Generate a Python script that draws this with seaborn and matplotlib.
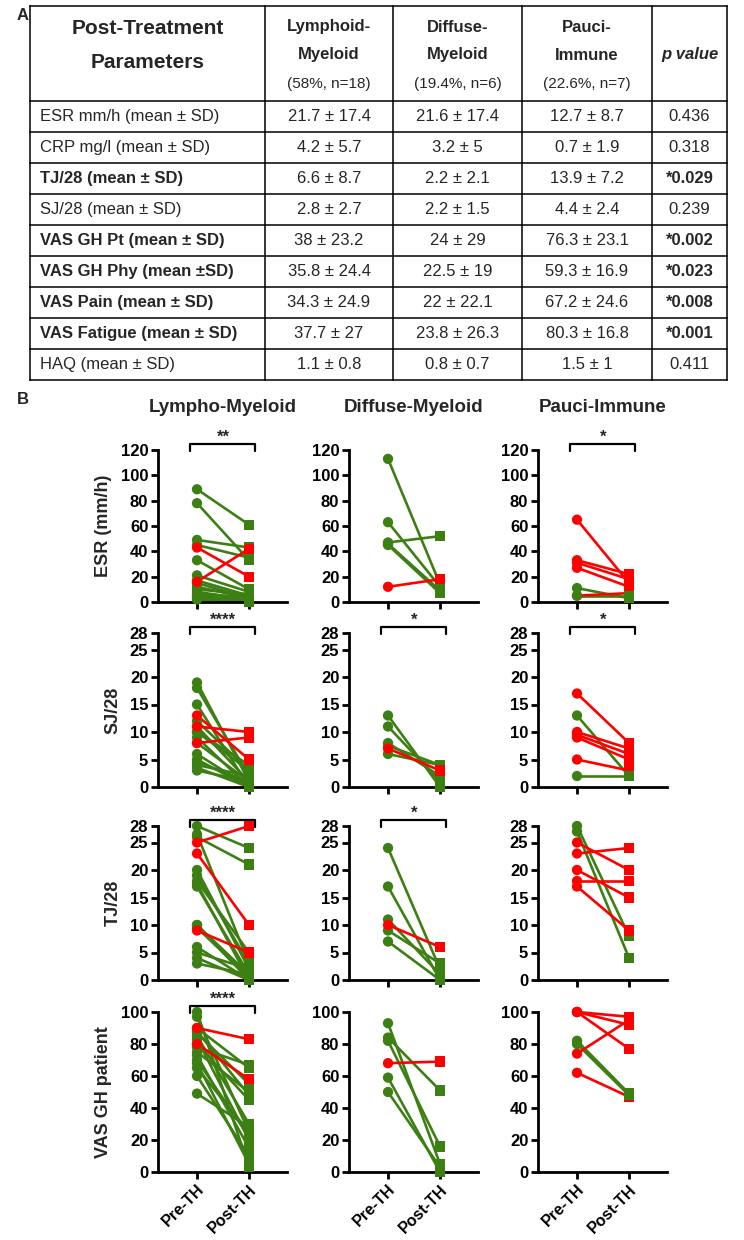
import numpy as np
import pandas as pd
import matplotlib
matplotlib.use("Agg")
import matplotlib.pyplot as plt
import matplotlib.transforms as mtransforms
import seaborn as sns

sns.set_theme(style="ticks")
plt.rcParams['font.family'] = ['Liberation Sans', 'DejaVu Sans']

GREEN = "#3c8014"
RED = "#ff0000"

# ---------------- Panel A : table data ----------------
group_names = ["Lymphoid-\nMyeloid", "Diffuse-\nMyeloid", "Pauci-\nImmune"]
group_sizes = ["(58%, n=18)", "(19.4%, n=6)", "(22.6%, n=7)"]
param_labels = ["ESR mm/h (mean ± SD)", "CRP mg/l (mean ± SD)", "TJ/28 (mean ± SD)",
                "SJ/28 (mean ± SD)", "VAS GH Pt (mean ± SD)", "VAS GH Phy (mean ±SD)",
                "VAS Pain (mean ± SD)", "VAS Fatigue (mean ± SD)", "HAQ (mean ± SD)"]
param_bold = [False, False, True, False, True, True, True, True, False]
lm_vals = ["21.7 ± 17.4", "4.2 ± 5.7", "6.6 ± 8.7", "2.8 ± 2.7", "38 ± 23.2",
           "35.8 ± 24.4", "34.3 ± 24.9", "37.7 ± 27", "1.1 ± 0.8"]
dm_vals = ["21.6 ± 17.4", "3.2 ± 5", "2.2 ± 2.1", "2.2 ± 1.5", "24 ± 29",
           "22.5 ± 19", "22 ± 22.1", "23.8 ± 26.3", "0.8 ± 0.7"]
pi_vals = ["12.7 ± 8.7", "0.7 ± 1.9", "13.9 ± 7.2", "4.4 ± 2.4", "76.3 ± 23.1",
           "59.3 ± 16.9", "67.2 ± 24.6", "80.3 ± 16.8", "1.5 ± 1"]
p_vals = ["0.436", "0.318", "*0.029", "0.239", "*0.002", "*0.023", "*0.008", "*0.001", "0.411"]

# ---------------- Panel B : paired data ----------------
groups = ["Lympho-Myeloid", "Diffuse-Myeloid", "Pauci-Immune"]
measures = ["ESR (mm/h)", "SJ/28", "TJ/28", "VAS GH patient"]
time_labels = ["Pre-TH", "Post-TH"]

# ESR
esr_lm_pre = [89, 78, 49, 45, 33, 21, 17, 15, 10, 8, 6, 5, 4, 3, 2, 12, 43, 16]
esr_lm_post = [61, 33, 43, 35, 10, 8, 5, 3, 6, 2, 4, 1, 2, 1, 0, 3, 20, 42]
esr_lm_col = ["G"] * 16 + ["R", "R"]
esr_dm_pre = [113, 63, 47, 46, 45, 12]
esr_dm_post = [14, 12, 52, 9, 7, 18]
esr_dm_col = ["G", "G", "G", "G", "G", "R"]
esr_pi_pre = [65, 33, 31, 27, 5, 11, 5]
esr_pi_post = [15, 22, 18, 12, 7, 3, 5]
esr_pi_col = ["R", "R", "R", "R", "R", "G", "G"]
# SJ/28
sj_lm_pre = [19, 18, 15, 12, 11, 10, 9, 8, 5, 4, 3, 3.5, 4.5, 10, 6, 13, 11, 8]
sj_lm_post = [1, 2, 0, 3, 1, 4, 0, 1, 0, 2, 1, 0, 1, 3, 0, 5, 10, 9]
sj_lm_col = ["G"] * 15 + ["R", "R", "R"]
sj_dm_pre = [13, 11, 8, 7.5, 6, 7]
sj_dm_post = [0, 1, 2, 4, 4, 3]
sj_dm_col = ["G", "G", "G", "G", "G", "R"]
sj_pi_pre = [17, 13, 10, 9.5, 9, 5, 2]
sj_pi_post = [8, 2, 7, 6, 5, 3, 2]
sj_pi_col = ["R", "G", "R", "R", "R", "R", "G"]
# TJ/28
tj_lm_pre = [28, 26, 26.5, 20, 18, 17, 17.5, 10, 10, 6, 4, 3, 5, 9.5, 19, 25, 23, 9]
tj_lm_post = [24, 21, 3, 2, 5, 1, 0, 0, 1, 0, 0, 1, 2, 0.5, 3, 28, 10, 5]
tj_lm_col = ["G"] * 15 + ["R", "R", "R"]
tj_dm_pre = [24, 17, 11, 9, 7, 10]
tj_dm_post = [2, 0, 1, 3, 0, 6]
tj_dm_col = ["G", "G", "G", "G", "G", "R"]
tj_pi_pre = [28, 27, 25, 23, 20, 18, 17]
tj_pi_post = [8, 4, 20, 24, 15, 18, 9]
tj_pi_col = ["G", "G", "R", "R", "R", "R", "R"]
# VAS GH patient
vas_lm_pre = [100, 97, 90, 88, 87, 85, 83, 80, 78, 75, 73, 70, 68, 65, 60, 49, 90, 80]
vas_lm_post = [3, 25, 65, 48, 55, 30, 20, 45, 67, 50, 15, 22, 5, 25, 10, 28, 83, 58]
vas_lm_col = ["G"] * 16 + ["R", "R"]
vas_dm_pre = [93, 84, 82, 59, 50, 68]
vas_dm_post = [5, 51, 16, 0, 3, 69]
vas_dm_col = ["G", "G", "G", "G", "G", "R"]
vas_pi_pre = [100, 100, 100, 74, 62, 82, 80]
vas_pi_post = [97, 92, 77, 95, 47, 49, 48]
vas_pi_col = ["R", "R", "R", "R", "R", "G", "G"]

y_max = [120, 28, 28, 100]
y_ticks = [[0, 20, 40, 60, 80, 100, 120], [0, 5, 10, 15, 20, 25, 28],
           [0, 5, 10, 15, 20, 25, 28], [0, 20, 40, 60, 80, 100]]

panel_data = [
    [(esr_lm_pre, esr_lm_post, esr_lm_col), (esr_dm_pre, esr_dm_post, esr_dm_col), (esr_pi_pre, esr_pi_post, esr_pi_col)],
    [(sj_lm_pre, sj_lm_post, sj_lm_col), (sj_dm_pre, sj_dm_post, sj_dm_col), (sj_pi_pre, sj_pi_post, sj_pi_col)],
    [(tj_lm_pre, tj_lm_post, tj_lm_col), (tj_dm_pre, tj_dm_post, tj_dm_col), (tj_pi_pre, tj_pi_post, tj_pi_col)],
    [(vas_lm_pre, vas_lm_post, vas_lm_col), (vas_dm_pre, vas_dm_post, vas_dm_col), (vas_pi_pre, vas_pi_post, vas_pi_col)],
]
sig_stars = [["**", "", "*"], ["****", "*", "*"], ["****", "*", ""], ["****", "", ""]]

# ---------------- Figure ----------------
W, H = 744, 1240
fig = plt.figure(figsize=(W / 100, H / 100), dpi=100)


def px_axes(x0, y0, x1, y1):
    return fig.add_axes([x0 / W, 1 - y1 / H, (x1 - x0) / W, (y1 - y0) / H])


# ---- Table ----
axt = px_axes(0, 0, W, 400)
axt.set_xlim(0, W)
axt.set_ylim(400, 0)
axt.axis("off")
col_edges = [30, 265, 393, 522, 652, 727]
head_top, head_bot, row_h = 6, 101, 31
n_rows = len(param_labels)
row_edges = [head_top, head_bot] + [head_bot + row_h * (i + 1) for i in range(n_rows)]
for xe in col_edges:
    axt.plot([xe, xe], [head_top, row_edges[-1]], color="black", lw=1.1, solid_capstyle="projecting")
for ye in row_edges:
    axt.plot([col_edges[0], col_edges[-1]], [ye, ye], color="black", lw=1.1, solid_capstyle="projecting")

fig.text(17 / W, 1 - 16 / H, "A", fontsize=12, fontweight="bold", ha="left", va="center")
cx0 = (col_edges[0] + col_edges[1]) / 2
axt.text(cx0, 28, "Post-Treatment", fontsize=15, fontweight="bold", ha="center", va="center")
axt.text(cx0, 62, "Parameters", fontsize=15, fontweight="bold", ha="center", va="center")
for j in range(3):
    cx = (col_edges[j + 1] + col_edges[j + 2]) / 2
    l1, l2 = group_names[j].split("\n")
    axt.text(cx, 27, l1, fontsize=12, fontweight="bold", ha="center", va="center")
    axt.text(cx, 55, l2, fontsize=12, fontweight="bold", ha="center", va="center")
    axt.text(cx, 84, group_sizes[j], fontsize=11, ha="center", va="center")
cxp = (col_edges[4] + col_edges[5]) / 2
axt.text(cxp, 55, "p value", fontsize=12, fontweight="bold", fontstyle="italic", ha="center", va="center")

for i in range(n_rows):
    yc = head_bot + row_h * i + row_h / 2
    axt.text(40, yc, param_labels[i], fontsize=12, fontweight="bold" if param_bold[i] else "normal",
             ha="left", va="center")
    for j, vals in enumerate([lm_vals, dm_vals, pi_vals]):
        cx = (col_edges[j + 1] + col_edges[j + 2]) / 2
        axt.text(cx, yc, vals[i], fontsize=12, ha="center", va="center")
    axt.text(cxp, yc, p_vals[i], fontsize=12, ha="center", va="center",
             fontweight="bold" if p_vals[i].startswith("*") else "normal")

# ---- Paired plots ----
fig.text(17 / W, 1 - 400 / H, "B", fontsize=12, fontweight="bold", ha="left", va="center")
col_x0 = [158, 349, 538]
ax_w = 129
row_y = [(450, 602), (633, 787), (826, 980), (1012, 1172)]
palette = {"G": GREEN, "R": RED}

for j, g in enumerate(groups):
    fig.text((col_x0[j] + ax_w / 2) / W, 1 - 407 / H, g, fontsize=13.5, fontweight="bold",
             ha="center", va="center")

for r in range(4):
    for j in range(3):
        y0, y1 = row_y[r]
        ax = px_axes(col_x0[j], y0, col_x0[j] + ax_w, y1)
        pre, post, cols = panel_data[r][j]
        n = len(pre)
        df = pd.DataFrame({
            "id": list(range(n)) * 2,
            "t": [0] * n + [1] * n,
            "tp": ["Pre"] * n + ["Post"] * n,
            "v": list(pre) + list(post),
            "grp": list(cols) * 2,
        })
        sns.lineplot(data=df, x="t", y="v", units="id", estimator=None, hue="grp",
                     hue_order=["G", "R"], palette=palette, lw=1.9, legend=False,
                     ax=ax, sort=False, clip_on=False)
        sns.scatterplot(data=df, x="t", y="v", hue="grp", hue_order=["G", "R"], palette=palette,
                        style="tp", markers={"Pre": "o", "Post": "s"}, s=55, linewidth=0,
                        legend=False, ax=ax, clip_on=False, zorder=3)
        ax.set_xlim(-0.75, 1.73)
        ax.set_ylim(0, y_max[r])
        ax.set_yticks(y_ticks[r])
        ax.set_xticks([0, 1])
        sns.despine(ax=ax)
        for sp in ["left", "bottom"]:
            ax.spines[sp].set_linewidth(2.0)
            ax.spines[sp].set_color("black")
        ax.tick_params(axis="both", length=5, width=2.0, color="black", labelsize=12,
                       labelcolor="black", pad=2)
        for lbl in ax.get_yticklabels():
            lbl.set_fontweight("bold")
        ax.set_xlabel("")
        if r == 3:
            ax.set_xticklabels(time_labels, rotation=45, ha="right", rotation_mode="anchor",
                               fontweight="bold", fontsize=11.5)
        else:
            ax.set_xticklabels([])
        if j == 0:
            ax.set_ylabel(measures[r], fontsize=13, fontweight="bold", labelpad=6)
        else:
            ax.set_ylabel("")
        stars = sig_stars[r][j]
        if stars:
            trans = mtransforms.blended_transform_factory(ax.transData, ax.transAxes)
            up = 6.0 / (y1 - y0)
            ax.plot([-0.13, -0.13, 1.12, 1.12], [1 + up - 0.045, 1 + up, 1 + up, 1 + up - 0.045],
                    transform=trans, color="black", lw=1.6, clip_on=False)
            ax.text(0.5, 1 + up - 0.005, stars, transform=trans, ha="center", va="bottom",
                    fontsize=12, fontweight="bold")

fig.savefig("out.png", dpi=100)
